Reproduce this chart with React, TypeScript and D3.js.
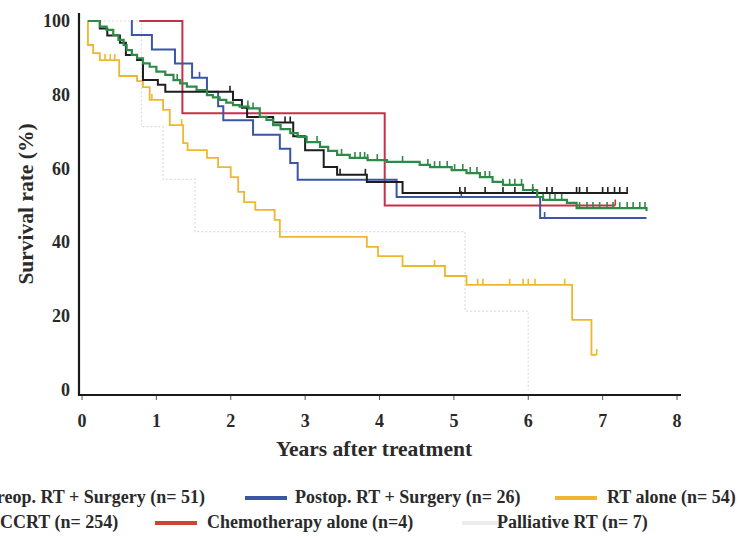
import React from "react";
import * as d3 from "d3";

const W = 739;
const H = 538;

const xTicks = [0, 1, 2, 3, 4, 5, 6, 7, 8];
const yTicks = [0, 20, 40, 60, 80, 100];

// Preop. RT + Surgery (black)
const preopT = [0.08, 0.24, 0.34, 0.51, 0.59, 0.74, 0.82, 1.02, 1.12, 2.03, 2.15, 2.22, 2.57, 2.84, 3.0, 3.25, 3.43, 3.83, 4.31, 7.34];
const preopS = [100, 98, 96.1, 94.1, 90.8, 89.4, 84.0, 82.7, 80.8, 78.6, 76.5, 74.0, 72.5, 68.8, 65.0, 60.4, 58.3, 56.4, 53.4, 53.4];
const preopCens = [1.99, 2.73, 2.8, 3.47, 3.81, 5.08, 5.15, 5.42, 5.66, 5.82, 6.06, 6.25, 6.32, 6.65, 6.69, 6.79, 7.0, 7.07, 7.16, 7.23, 7.33];

// Postop. RT + Surgery (blue)
const postopT = [0.66, 0.67, 0.94, 1.25, 1.48, 1.68, 1.83, 1.9, 2.3, 2.66, 2.8, 2.9, 4.23, 6.16, 7.59];
const postopS = [100, 96.2, 92.3, 88.5, 84.6, 80.8, 76.9, 73.1, 69.2, 65.4, 61.5, 57.0, 52.3, 46.6, 46.6];
const postopCens = [1.58, 5.1, 6.22];

// RT alone (yellow)
const rtT = [0.07, 0.08, 0.15, 0.24, 0.5, 0.74, 0.82, 0.91, 1.09, 1.18, 1.36, 1.42, 1.68, 1.83, 2.0, 2.1, 2.18, 2.33, 2.59, 2.66, 3.83, 3.98, 4.31, 4.88, 5.17, 6.59, 6.85, 6.92];
const rtS = [100, 93.5, 91.3, 89.4, 85.1, 83.7, 82.1, 78.6, 75.9, 71.8, 66.9, 65.0, 62.9, 60.4, 57.7, 53.7, 50.9, 48.8, 46.1, 41.5, 38.8, 36.3, 33.6, 30.9, 28.5, 19.0, 9.5, 9.5];
const rtCens = [0.31, 0.38, 0.44, 0.94, 1.34, 4.74, 5.32, 5.39, 5.75, 5.93, 6.0, 6.09, 6.49, 6.92];

// CCRT (green)
const ccrtT = [0.08, 0.24, 0.33, 0.42, 0.49, 0.56, 0.6, 0.67, 0.74, 0.82, 0.91, 1.0, 1.12, 1.23, 1.32, 1.41, 1.54, 1.68, 1.76, 1.85, 1.94, 2.03, 2.12, 2.24, 2.39, 2.48, 2.57, 2.67, 2.8, 2.9, 3.02, 3.2, 3.31, 3.43, 3.6, 3.84, 4.1, 4.54, 4.68, 4.97, 5.17, 5.35, 5.52, 5.66, 5.93, 6.12, 6.2, 6.52, 6.65, 7.59];
const ccrtS = [100, 98.5, 97.6, 96.2, 94.9, 93.5, 92.1, 90.8, 89.9, 88.5, 87.6, 86.3, 85.4, 84.0, 83.1, 82.2, 81.3, 79.9, 79.3, 78.6, 77.9, 77.2, 76.8, 76.3, 74.0, 73.2, 71.8, 70.7, 69.6, 68.6, 67.2, 65.9, 64.8, 63.7, 62.9, 62.3, 61.8, 61.0, 60.4, 59.6, 58.8, 57.7, 56.4, 55.6, 54.2, 52.3, 51.5, 50.7, 49.3, 48.5];
const ccrtCens = [1.28, 2.23, 2.3, 3.16, 3.49, 3.67, 3.74, 3.8, 3.84, 3.97, 4.31, 4.65, 4.74, 4.81, 4.91, 5.01, 5.12, 5.22, 5.31, 5.42, 5.48, 5.66, 5.75, 5.82, 5.91, 6.06, 6.2, 6.29, 6.36, 6.45, 6.69, 6.79, 6.87, 6.96, 7.06, 7.14, 7.23, 7.33, 7.41, 7.5, 7.57];

// Chemotherapy alone (red)
const chemoT = [0.77, 1.35, 4.07, 7.17];
const chemoS = [100, 75, 50, 50];
const chemoCens = [7.17];

// Palliative RT (faint grey)
const pallT = [0.08, 0.8, 1.09, 1.52, 5.15, 6.0];
const pallS = [100, 71.4, 57.1, 42.9, 21.4, 0];

const x = d3.scaleLinear().domain([0, 8]).range([82, 677]);
const y = d3.scaleLinear().domain([0, 100]).range([390, 21]);

const valueAt = (T: number[], S: number[], t: number) => {
  let v = S[0];
  for (let i = 0; i < T.length; i++) if (T[i] <= t) v = S[i];
  return v;
};

const series = [
  { key: "pall", T: pallT, S: pallS, cens: [] as number[], color: "#dcdcdc", w: 1.2, dash: "2,2" },
  { key: "rt", T: rtT, S: rtS, cens: rtCens, color: "#f1b62f", w: 1.8, dash: null },
  { key: "chemo", T: chemoT, S: chemoS, cens: chemoCens, color: "#c8304a", w: 2, dash: null },
  { key: "postop", T: postopT, S: postopS, cens: postopCens, color: "#3a56a4", w: 2, dash: null },
  { key: "preop", T: preopT, S: preopS, cens: preopCens, color: "#1e1e1e", w: 2, dash: null },
  { key: "ccrt", T: ccrtT, S: ccrtS, cens: ccrtCens, color: "#2d8a47", w: 2.2, dash: null },
];

const line = d3
  .line<[number, number]>()
  .x((d) => x(d[0]))
  .y((d) => y(d[1]))
  .curve(d3.curveStepAfter);

const font = "'Liberation Serif', 'DejaVu Serif', serif";

const legendRows = [
  { label: "Preop. RT + Surgery (n= 51)", color: "#1e1e1e", sx: -70, tx: 205, anchor: "end", ty: 503 },
  { label: "Postop. RT + Surgery (n= 26)", color: "#3a56a4", sx: 245, tx: 295, anchor: "start", ty: 503 },
  { label: "RT alone (n= 54)", color: "#f1b62f", sx: 555, tx: 607, anchor: "start", ty: 503 },
  { label: "CCRT (n= 254)", color: "#2d8a47", sx: -70, tx: 0, anchor: "start", ty: 528 },
  { label: "Chemotherapy alone (n=4)", color: "#cf4430", sx: 155, tx: 207, anchor: "start", ty: 528 },
  { label: "Palliative RT (n= 7)", color: "#ececec", sx: 462, tx: 497, anchor: "start", ty: 528 },
];

export default function App() {
  return (
    <svg
      width={W}
      height={H}
      style={{ position: "absolute", left: 0, top: 0, background: "#fff" }}
      fontFamily={font}
    >
      {/* axes */}
      <line x1={79} x2={79} y1={13} y2={396} stroke="#1a1a1a" strokeWidth={2.2} />
      <line x1={78} x2={681} y1={395} y2={395} stroke="#1a1a1a" strokeWidth={2} />
      {xTicks.map((t) => (
        <g key={t}>
          <line x1={x(t)} x2={x(t)} y1={396} y2={400} stroke="#555" strokeWidth={1} />
          <text x={x(t)} y={427} textAnchor="middle" fontSize={18} fontWeight="bold" fill="#2a2a2a">
            {t}
          </text>
        </g>
      ))}
      {yTicks.map((v) => (
        <text key={v} x={70} y={y(v) + 6} textAnchor="end" fontSize={18} fontWeight="bold" fill="#2a2a2a">
          {v}
        </text>
      ))}
      <text
        transform={`translate(33,204) rotate(-90)`}
        textAnchor="middle"
        fontSize={21.5}
        fontWeight="bold"
        fill="#2a2a2a"
      >
        Survival rate (%)
      </text>
      <text x={374} y={456} textAnchor="middle" fontSize={21.5} fontWeight="bold" fill="#2a2a2a">
        Years after treatment
      </text>

      {/* curves */}
      {series.map((s) => (
        <g key={s.key}>
          <path
            d={line(s.T.map((t, i) => [t, s.S[i]] as [number, number])) || ""}
            fill="none"
            stroke={s.color}
            strokeWidth={s.w}
            strokeDasharray={s.dash || undefined}
          />
          {s.cens.map((c, i) => {
            const cy = y(valueAt(s.T, s.S, c));
            return (
              <line key={i} x1={x(c)} x2={x(c)} y1={cy} y2={cy - 6} stroke={s.color} strokeWidth={1.6} />
            );
          })}
        </g>
      ))}

      {/* legend */}
      {legendRows.map((r) => (
        <g key={r.label}>
          <line x1={r.sx} x2={r.sx + 42} y1={r.ty - 5} y2={r.ty - 5} stroke={r.color} strokeWidth={4} />
          <text x={r.tx} y={r.ty} textAnchor={r.anchor as any} fontSize={18} fontWeight="bold" fill="#2a2a2a">
            {r.label}
          </text>
        </g>
      ))}
    </svg>
  );
}
